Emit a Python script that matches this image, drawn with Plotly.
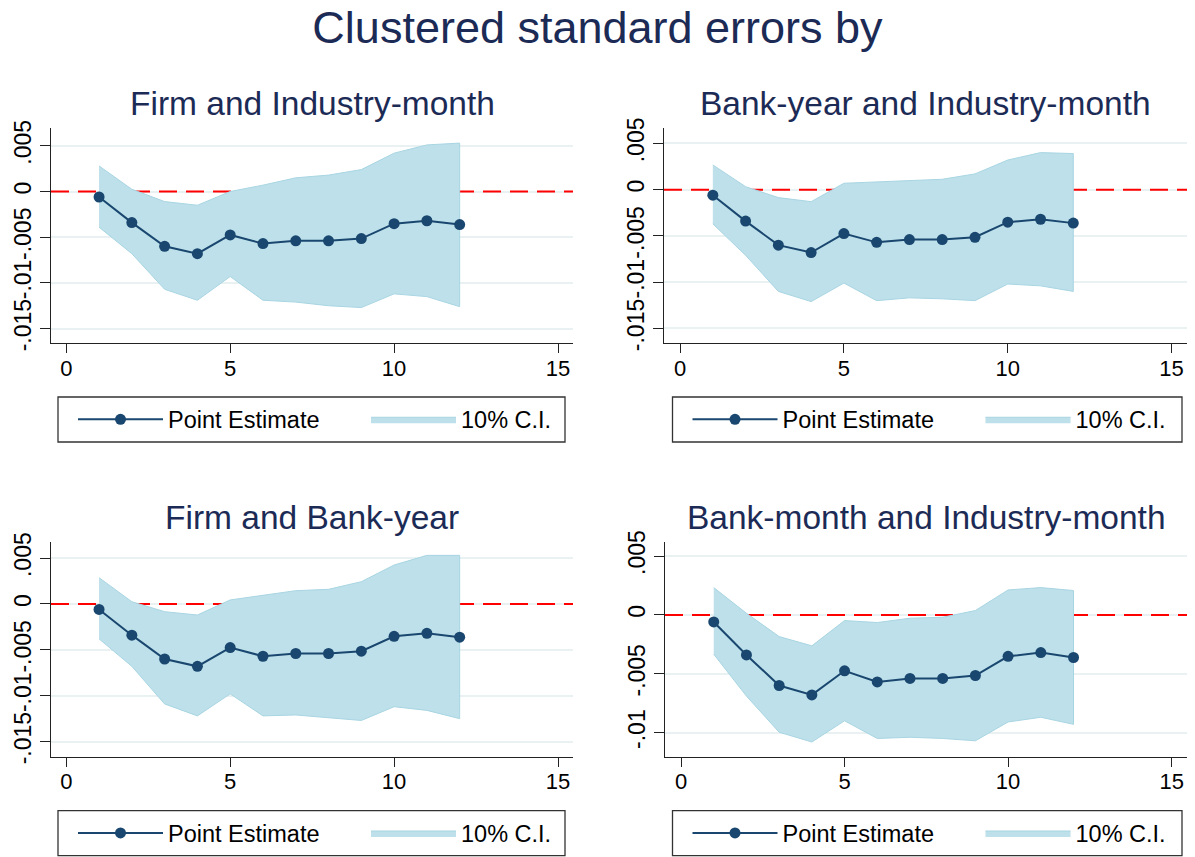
import plotly.graph_objects as go

W, H = 1195, 857

months = list(range(1, 13))
point_estimate = [-0.0006, -0.0034, -0.0060, -0.0068, -0.00475, -0.0057,
                  -0.0054, -0.0054, -0.00515, -0.00352, -0.0032, -0.00362]

panel_titles = ["Firm and Industry-month", "Bank-year and Industry-month",
                "Firm and Bank-year", "Bank-month and Industry-month"]

upper_firm_ind = [0.0028, 0.00025, -0.0011, -0.0015, 0.0000, 0.0007,
                  0.0015, 0.0018, 0.0024, 0.0042, 0.0051, 0.0053]
lower_firm_ind = [-0.0039, -0.0068, -0.0107, -0.0119, -0.0093, -0.0119,
                  -0.0121, -0.0125, -0.0127, -0.0112, -0.0115, -0.0126]

upper_bank_year_ind = [0.00267, 0.00032, -0.00086, -0.0013, 0.00069, 0.00083,
                       0.00097, 0.00112, 0.0017, 0.0032, 0.0040, 0.0039]
lower_bank_year_ind = [-0.0037, -0.0071, -0.0110, -0.0121, -0.0101, -0.0120,
                       -0.0117, -0.0118, -0.0120, -0.0102, -0.0104, -0.0110]

upper_firm_bank = [0.00287, 0.00025, -0.00084, -0.0012, 0.00044, 0.00098,
                   0.00145, 0.0016, 0.00243, 0.00425, 0.0053, 0.0053]
lower_firm_bank = [-0.0038, -0.0068, -0.0109, -0.0122, -0.0098, -0.0122,
                   -0.0121, -0.0124, -0.0127, -0.0112, -0.0116, -0.0125]

upper_bank_month_ind = [0.00232, 0.00014, -0.00184, -0.00263, -0.00048, -0.00065,
                        -0.00028, -0.0002, 0.00037, 0.00212, 0.00232, 0.00207]
lower_bank_month_ind = [-0.00334, -0.0069, -0.00997, -0.0108, -0.0090, -0.0105,
                        -0.0104, -0.0105, -0.0107, -0.0091, -0.0087, -0.0093]

reference_value = 0

x_ticks = [0, 5, 10, 15]
y_ticks_wide = [-0.015, -0.01, -0.005, 0, 0.005]
y_labels_wide = ["-.015", "-.01", "-.005", "0", ".005"]
y_ticks_narrow = [-0.01, -0.005, 0, 0.005]
y_labels_narrow = ["-.01", "-.005", "0", ".005"]

uppers = [upper_firm_ind, upper_bank_year_ind, upper_firm_bank, upper_bank_month_ind]
lowers = [lower_firm_ind, lower_bank_year_ind, lower_firm_bank, lower_bank_month_ind]

# layout geometry (pixels)
x_dom_px = [(51, 573), (664, 1187), (51, 573), (665, 1187)]
y_dom_px = [(128.2, 343.3), (128.2, 343.3), (541.7, 756.7), (541.7, 756.7)]
x_ranges = [(-0.466, 15.457), (-0.49, 15.47), (-0.466, 15.457), (-0.49, 15.47)]
y_ranges = [(-0.01661, 0.00693), (-0.01661, 0.00664), (-0.01665, 0.00679), (-0.01205, 0.00622)]
title_y_px = [103, 103, 517, 517]
legend_box_px = [(58, 565, 397, 442), (672.5, 1182, 397, 442),
                 (58, 565, 810.7, 855.7), (672.5, 1182, 810.7, 855.7)]

NAVY = "#1a476f"
FILL = "#bde0ea"
FILL_EDGE = "#a8d5e2"
TITLE_COL = "#1c2b56"
AXIS_COL = "#222222"
GRID_COL = "#e9f1f3"
FONT = "Liberation Sans, Arial, sans-serif"

fig = go.Figure()
layout = dict(
    template="none",
    width=W, height=H,
    margin=dict(l=0, r=0, t=0, b=0, autoexpand=False),
    paper_bgcolor="white", plot_bgcolor="white",
    font=dict(family=FONT, color="black"),
    title=dict(text="Clustered standard errors by", x=0.5, xanchor="center",
               y=1 - 27 / H, yanchor="middle", yref="container",
               font=dict(size=45, color=TITLE_COL, family=FONT)),
    showlegend=True,
)
annotations = []
shapes = []

for i in range(4):
    k = "" if i == 0 else str(i + 1)
    xa, ya = "x" + k, "y" + k
    leg_a = "legend" if i == 0 else "legend" + str(2 * i + 1)
    leg_b = "legend" + str(2 * i + 2)
    up, lo = uppers[i], lowers[i]
    # zero reference line across the whole x range
    fig.add_trace(go.Scatter(
        x=list(x_ranges[i]), y=[reference_value, reference_value], mode="lines",
        line=dict(color="#ff0000", width=2, dash="18px,9px"),
        xaxis=xa, yaxis=ya, showlegend=False, hoverinfo="skip", cliponaxis=True))
    # CI band
    fig.add_trace(go.Scatter(
        x=months + months[::-1], y=up + lo[::-1], fill="toself",
        fillcolor=FILL, mode="lines", line=dict(color=FILL_EDGE, width=1),
        name="10% C.I.", xaxis=xa, yaxis=ya, legend=leg_b, hoverinfo="skip"))
    # point estimate
    fig.add_trace(go.Scatter(
        x=months, y=point_estimate, mode="lines+markers",
        line=dict(color=NAVY, width=2), marker=dict(color=NAVY, size=11),
        name="Point Estimate", xaxis=xa, yaxis=ya, legend=leg_a))

    wide = i != 3
    layout["xaxis" + k] = dict(
        domain=[x_dom_px[i][0] / W, x_dom_px[i][1] / W], range=list(x_ranges[i]),
        anchor=ya, tickvals=x_ticks, ticks="outside", ticklen=9, tickwidth=1.3,
        tickcolor=AXIS_COL, showline=True, linecolor=AXIS_COL, linewidth=1.3,
        showgrid=False, zeroline=False, automargin=False,
        tickfont=dict(size=22, color="black"))
    layout["yaxis" + k] = dict(
        domain=[1 - y_dom_px[i][1] / H, 1 - y_dom_px[i][0] / H], range=list(y_ranges[i]),
        anchor=xa, tickvals=y_ticks_wide if wide else y_ticks_narrow,
        ticktext=y_labels_wide if wide else y_labels_narrow,
        tickangle=-90, ticks="outside", ticklen=10, tickwidth=1.3, tickcolor=AXIS_COL,
        showline=True, linecolor=AXIS_COL, linewidth=1.3, showgrid=True,
        gridcolor=GRID_COL, gridwidth=1.5, zeroline=False, automargin=False,
        tickfont=dict(size=23, color="black"))

    annotations.append(dict(
        text=panel_titles[i], xref="paper", yref="paper",
        x=(x_dom_px[i][0] + x_dom_px[i][1]) / 2 / W, y=1 - title_y_px[i] / H,
        xanchor="center", yanchor="middle", showarrow=False,
        font=dict(size=33.5, color=TITLE_COL, family=FONT)))

    # legend frame
    bx0, bx1, by0, by1 = legend_box_px[i]
    shapes.append(dict(type="rect", xref="paper", yref="paper",
                       x0=bx0 / W, x1=bx1 / W, y0=1 - by1 / H, y1=1 - by0 / H,
                       line=dict(color="#333333", width=1.3), fillcolor="rgba(0,0,0,0)",
                       layer="above"))
    yc = 1 - (by0 + by1) / 2 / H
    common = dict(orientation="h", yanchor="middle", y=yc, xanchor="left",
                  bgcolor="rgba(0,0,0,0)", borderwidth=0, itemwidth=85,
                  font=dict(size=23.5, color="black", family=FONT), itemclick=False,
                  itemdoubleclick=False)
    layout[leg_a] = dict(common, x=(bx0 + 15) / W)
    layout[leg_b] = dict(common, x=(bx0 + 308) / W)

layout["annotations"] = annotations
layout["shapes"] = shapes
fig.update_layout(**layout)

# pull the x tick labels slightly closer to the axis, as in the reference
try:
    fig.update_xaxes(ticklabelstandoff=-4)
except Exception:
    pass

fig.write_html(
    "out.html",
    config={"displayModeBar": False},
    post_script="document.body.style.margin='0';document.body.style.overflow='hidden';",
)
